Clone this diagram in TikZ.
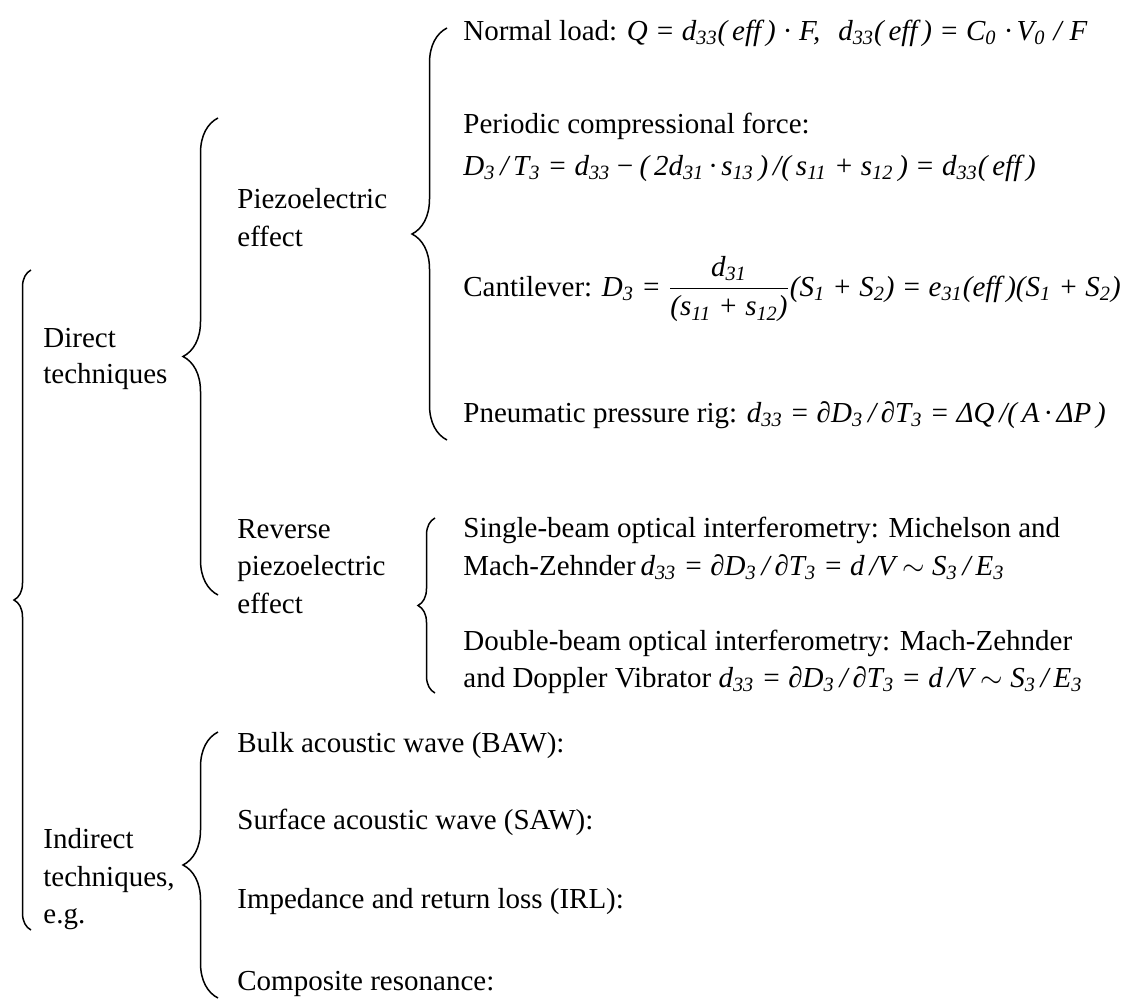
\documentclass[tikz,border=0pt]{standalone}
\usepackage{fontspec}
\setmainfont{Liberation Serif}
\usetikzlibrary{decorations.pathreplacing}
\newcommand\sbs[1]{\textsubscript{\itshape #1}}
\newcommand\eq[1]{{\itshape #1}}
\begin{document}
\begin{tikzpicture}[x=0.5pt,y=-0.5pt,
  txt/.style={anchor=base west, inner sep=0pt, font=\fontsize{14.5}{19}\selectfont},
  bigbrace/.style={draw, line width=0.75pt, decorate, decoration={brace, amplitude=17.5pt}},
  smallbrace/.style={draw, line width=0.75pt, decorate, decoration={brace, amplitude=8.5pt}}]
\useasboundingbox (0,0) rectangle (1142,1001);
% brace end points
\coordinate (oT) at (31,270);   \coordinate (oB) at (31,930);
\coordinate (dT) at (218,118);  \coordinate (dB) at (218,595);
\coordinate (pT) at (447,28);   \coordinate (pB) at (447,440);
\coordinate (rT) at (435,518);  \coordinate (rB) at (435,693);
\coordinate (iT) at (218,732);  \coordinate (iB) at (218,998);
% left labels
\node[txt] (dir1) at (43,347) {Direct};
\node[txt] (dir2) at (43,383) {techniques};
\node[txt] (ind1) at (43,848) {Indirect};
\node[txt] (ind2) at (43,886) {techniques,};
\node[txt] (ind3) at (43,923) {e.g.};
% middle labels
\node[txt] (pz1) at (237,208) {Piezoelectric};
\node[txt] (pz2) at (237,246) {effect};
\node[txt] (rv1) at (237,538) {Reverse};
\node[txt] (rv2) at (237,575) {piezoelectric};
\node[txt] (rv3) at (237,613) {effect};
% indirect items
\node[txt] (bulk) at (237,752) {Bulk acoustic wave (BAW):};
\node[txt] (saw)  at (237,829) {Surface acoustic wave (SAW):};
\node[txt] (irl)  at (237,908) {Impedance and return loss (IRL):};
\node[txt] (comp) at (237,990) {Composite resonance:};
% piezoelectric items
\node[txt] (nl) at (463,40) {Normal load: \eq{Q = d\sbs{33}(\,eff\,)\;·\;F,\hspace{9pt}d\sbs{33}(\,eff\,) = C\sbs{0}\;·\,V\sbs{0}\;/\;F}};
\node[txt] (pc1) at (463,133) {Periodic compressional force:};
\node[txt] (pc2) at (463,175) {\eq{D\sbs{3}\,/\,T\sbs{3} = d\sbs{33}\,−\,(\,2d\sbs{31}\,·\,s\sbs{13}\,)\,/(\,s\sbs{11} + s\sbs{12}\,) = d\sbs{33}(\,eff\,)}};
\node[txt] (cant) at (463,296) {Cantilever: \eq{D\sbs{3} =} $\displaystyle\frac{\mbox{\itshape d\sbs{31}}}{\mbox{\itshape (s\sbs{11} + s\sbs{12})}}$\eq{(S\sbs{1} + S\sbs{2}) = e\sbs{31}(eff\,)(S\sbs{1} + S\sbs{2})}};
\node[txt] (pn) at (463,422) {Pneumatic pressure rig: \eq{d\sbs{33} = ∂D\sbs{3}\,/\,∂T\sbs{3} = ΔQ\,/(\,A\,·\,ΔP\,)}};
% reverse items
\node[txt] (sb1) at (463,537) {Single-beam optical interferometry: Michelson and};
\node[txt] (sb2) at (463,575) {Mach-Zehnder\,\eq{d\sbs{33} = ∂D\sbs{3}\,/\,∂T\sbs{3} = d\,/V} $\sim$ \eq{S\sbs{3}\,/\,E\sbs{3}}};
\node[txt] (db1) at (463,650) {Double-beam optical interferometry: Mach-Zehnder};
\node[txt] (db2) at (463,687) {and Doppler Vibrator \eq{d\sbs{33} = ∂D\sbs{3}\,/\,∂T\sbs{3} = d\,/V} $\sim$ \eq{S\sbs{3}\,/\,E\sbs{3}}};
% braces
\draw[smallbrace] (oB) -- (oT);
\draw[bigbrace] (dB) -- (dT);
\draw[bigbrace] (pB) -- (pT);
\draw[smallbrace] (rB) -- (rT);
\draw[bigbrace] (iB) -- (iT);
\end{tikzpicture}
\end{document}
